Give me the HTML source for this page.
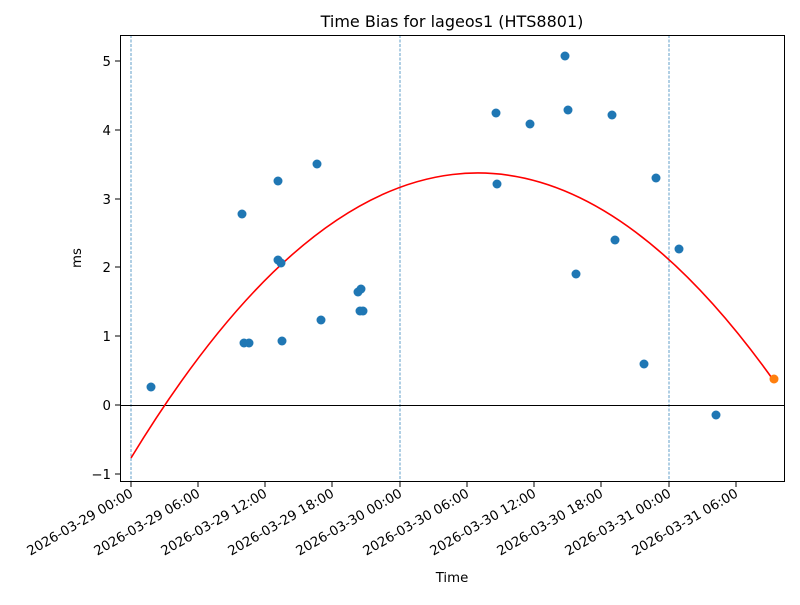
<!DOCTYPE html>
<html><head><meta charset="utf-8"><style>body{margin:0;background:#fff}</style></head>
<body>
<svg width="800" height="600" xmlns="http://www.w3.org/2000/svg" font-family="DejaVu Sans, Liberation Sans, sans-serif">
<rect width="800" height="600" fill="#fff"/>
<text x="452" y="27" font-size="16" text-anchor="middle">Time Bias for lageos1 (HTS8801)</text>
<g stroke="#1f77b4" stroke-width="0.7" stroke-dasharray="3,1.5">
<line x1="131" y1="35" x2="131" y2="481"/><line x1="400" y1="35" x2="400" y2="481"/><line x1="669" y1="35" x2="669" y2="481"/>
</g>
<line x1="120" y1="405.5" x2="785" y2="405.5" stroke="#000" stroke-width="1"/>
<path d="M131,458 Q452.5,-70.5 774,381" fill="none" stroke="red" stroke-width="1.6"/>
<g fill="#1f77b4">
<circle cx="151" cy="387" r="4.5"/><circle cx="242" cy="214" r="4.5"/><circle cx="244" cy="343" r="4.5"/><circle cx="249" cy="343" r="4.5"/><circle cx="278" cy="181" r="4.5"/><circle cx="278" cy="260" r="4.5"/><circle cx="281" cy="263" r="4.5"/><circle cx="282" cy="341" r="4.5"/><circle cx="317" cy="164" r="4.5"/><circle cx="321" cy="320" r="4.5"/><circle cx="358" cy="292" r="4.5"/><circle cx="361" cy="289" r="4.5"/><circle cx="360" cy="311" r="4.5"/><circle cx="363" cy="311" r="4.5"/><circle cx="496" cy="113" r="4.5"/><circle cx="497" cy="184" r="4.5"/><circle cx="530" cy="124" r="4.5"/><circle cx="565" cy="56" r="4.5"/><circle cx="568" cy="110" r="4.5"/><circle cx="576" cy="274" r="4.5"/><circle cx="612" cy="115" r="4.5"/><circle cx="615" cy="240" r="4.5"/><circle cx="644" cy="364" r="4.5"/><circle cx="656" cy="178" r="4.5"/><circle cx="679" cy="249" r="4.5"/><circle cx="716" cy="415" r="4.5"/>
</g>
<circle cx="774" cy="379" r="4.5" fill="#ff7f0e"/>
<rect x="120.5" y="35.5" width="664" height="446" fill="none" stroke="#000" stroke-width="1"/>
<g stroke="#000" stroke-width="1">
<line x1="115" y1="61" x2="120" y2="61"/><line x1="115" y1="130" x2="120" y2="130"/><line x1="115" y1="199" x2="120" y2="199"/><line x1="115" y1="267" x2="120" y2="267"/><line x1="115" y1="336" x2="120" y2="336"/><line x1="115" y1="405" x2="120" y2="405"/><line x1="115" y1="474" x2="120" y2="474"/>
<line x1="131" y1="482" x2="131" y2="487"/><line x1="198" y1="482" x2="198" y2="487"/><line x1="265" y1="482" x2="265" y2="487"/><line x1="332" y1="482" x2="332" y2="487"/><line x1="400" y1="482" x2="400" y2="487"/><line x1="467" y1="482" x2="467" y2="487"/><line x1="534" y1="482" x2="534" y2="487"/><line x1="601" y1="482" x2="601" y2="487"/><line x1="669" y1="482" x2="669" y2="487"/><line x1="736" y1="482" x2="736" y2="487"/>
</g>
<g font-size="13.3" text-anchor="end">
<text x="111" y="66">5</text><text x="111" y="135">4</text><text x="111" y="204">3</text><text x="111" y="272">2</text><text x="111" y="341">1</text><text x="111" y="410">0</text><text x="111" y="479">−1</text>
</g>
<g font-size="13.3" text-anchor="end">
<text transform="translate(134,496) rotate(-30)">2026-03-29 00:00</text>
<text transform="translate(201,496) rotate(-30)">2026-03-29 06:00</text>
<text transform="translate(268,496) rotate(-30)">2026-03-29 12:00</text>
<text transform="translate(335,496) rotate(-30)">2026-03-29 18:00</text>
<text transform="translate(403,496) rotate(-30)">2026-03-30 00:00</text>
<text transform="translate(470,496) rotate(-30)">2026-03-30 06:00</text>
<text transform="translate(537,496) rotate(-30)">2026-03-30 12:00</text>
<text transform="translate(604,496) rotate(-30)">2026-03-30 18:00</text>
<text transform="translate(672,496) rotate(-30)">2026-03-31 00:00</text>
<text transform="translate(739,496) rotate(-30)">2026-03-31 06:00</text>
</g>
<text x="452" y="582" font-size="13.3" text-anchor="middle">Time</text>
<text transform="translate(81,258) rotate(-90)" font-size="13.3" text-anchor="middle">ms</text>
</svg>
</body></html>
